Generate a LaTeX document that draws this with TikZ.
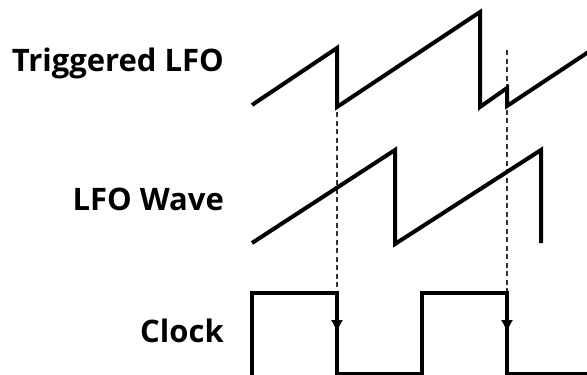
\documentclass[tikz,border=0pt]{standalone}
\usepackage{fontspec}
\setmainfont{Open Sans}
\usetikzlibrary{arrows.meta}

\tikzset{
  wave/.style={line width=4pt, line join=miter},
  sync/.style={dash pattern=on 5pt off 3.5pt, line width=1.2pt, black!80},
  edge/.style={line width=1pt, -{Latex[length=12pt,width=12pt]}},
  lbl/.style={font=\bfseries\fontsize{31}{33}\selectfont, anchor=base east, inner sep=0pt}
}

\begin{document}
\begin{tikzpicture}[x=1pt, y=-1pt]
  \useasboundingbox (0,0) rectangle (587,375);
  % labels
  \node[lbl] (trig) at (224,71) {Triggered LFO};
  \node[lbl] (lfo) at (224,210) {LFO Wave};
  \node[lbl] (clk) at (224,342) {Clock};
  % clock falling edges and the resets they cause
  \coordinate (fall1) at (337,293);
  \coordinate (fall2) at (507,293);
  \coordinate (reset1) at (337,112);
  \coordinate (reset2) at (507,50);
  \draw[sync] (reset1) -- (fall1);
  \draw[sync] (reset2) -- (fall2);
  % waves
  \draw[wave] (252,105) -- (337,48) -- (337,107) -- (480,12) -- (480,107)
    -- (507,88) -- (507,106) -- (600,44.3);
  \draw[wave] (252,243) -- (395,150) -- (395,244) -- (541,150) -- (541,243);
  \draw[wave] (252,380) -- (252,293) -- (337,293) -- (337,374) -- (422,374)
    -- (422,293) -- (507,293) -- (507,374) -- (600,374);
  \draw[edge] (fall1) -- ++(0,39);
  \draw[edge] (fall2) -- ++(0,39);
\end{tikzpicture}
\end{document}
